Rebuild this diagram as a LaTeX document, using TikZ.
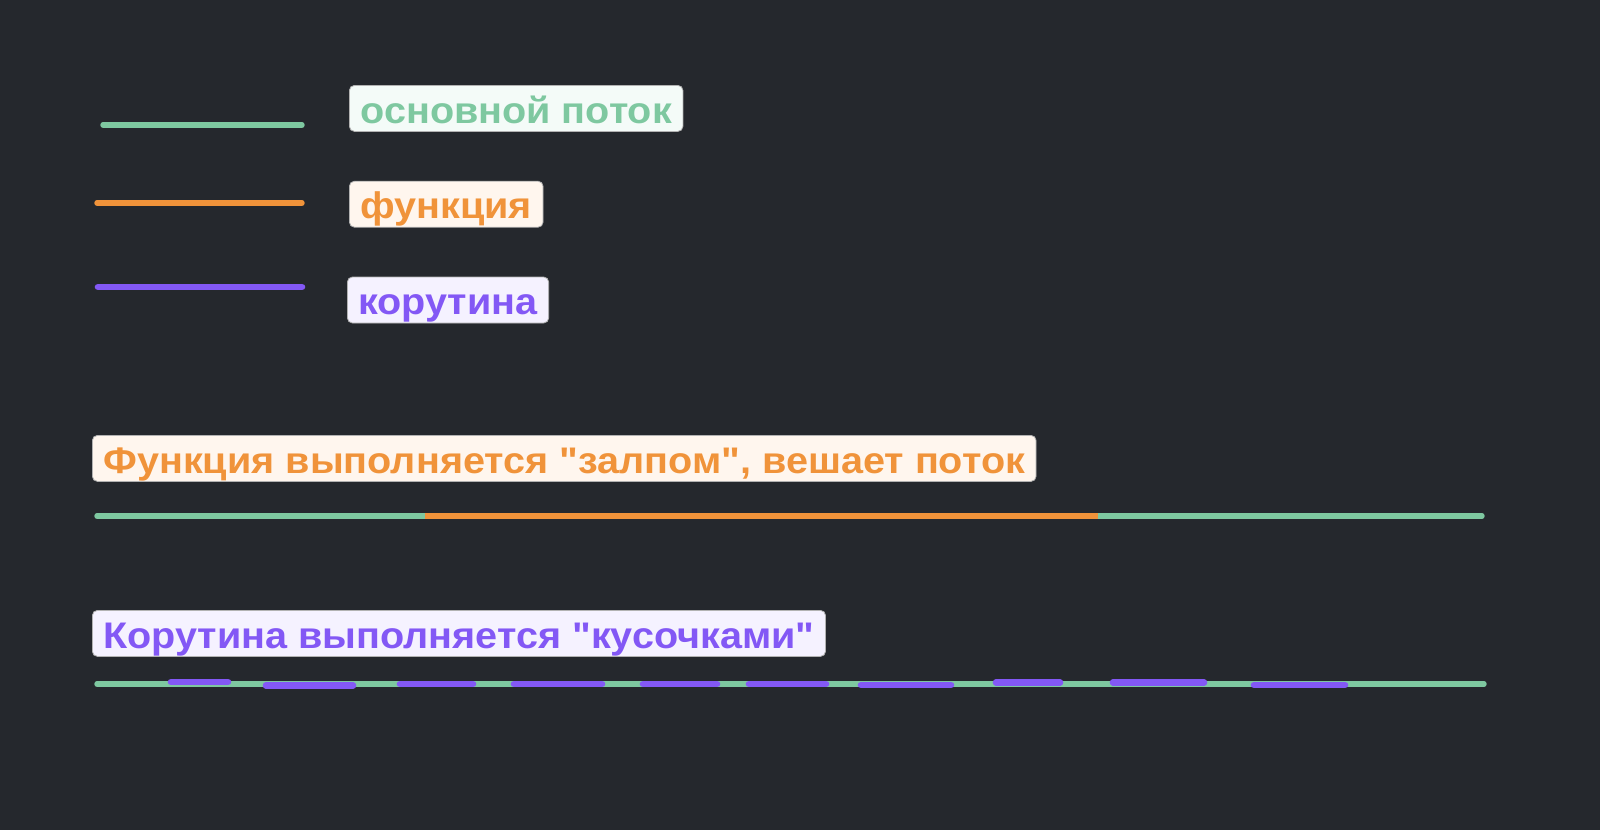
\documentclass[tikz,border=0pt]{standalone}
\usepackage{fontspec}
\usepackage{tikz}
\usetikzlibrary{positioning,backgrounds}
\setmainfont{Liberation Sans}[Ligatures=TeXOff, FakeStretch=1.07]
\definecolor{bgdark}{RGB}{37, 40, 45}
\definecolor{threadgreen}{RGB}{126, 200, 160}
\definecolor{funcorange}{RGB}{240, 147, 58}
\definecolor{corpurple}{RGB}{131, 88, 245}
\definecolor{greenpaper}{RGB}{244, 251, 248}
\definecolor{orangepaper}{RGB}{255, 246, 238}
\definecolor{purplepaper}{RGB}{245, 242, 255}

\begin{document}
\begin{tikzpicture}[x=0.5pt, y=-0.5pt, node distance=24.5pt and 6.0mm,
			tag/.style={draw=black!30, line width=0.4pt, rounded corners=2.5pt, inner xsep=5.5pt, inner ysep=0pt,
				text height=18.8pt, text depth=4.2pt, anchor=north west, font=\bfseries\fontsize{18.5}{21}\selectfont},
			threadtag/.style={tag, fill=greenpaper, text=threadgreen},
			functag/.style={tag, fill=orangepaper, text=funcorange},
			cortag/.style={tag, fill=purplepaper, text=corpurple},
			threadLine/.style={line width=2.7pt, line cap=round, color=threadgreen},
			funcLine/.style={line width=2.7pt, line cap=round, color=funcorange},
			corLine/.style={line width=3.3pt, line cap=round, color=corpurple}
			]
			\fill[bgdark] (0,0) rectangle (1600,830);
			\useasboundingbox (0,0) rectangle (1600,830);
			
			% legend
			\node[threadtag](lthread) at (349,85) {основной поток};
			\node[functag](lfunc) [below = of lthread.south west, anchor=north west] {функция};
			\node[cortag, xshift=-1pt](lcor) [below = of lfunc.south west, anchor=north west] {корутина};
			
			\coordinate (lthreadA) at (103,125);
			\coordinate (lthreadB) at (302,125);
			\coordinate (lfuncA) at (97,203);
			\coordinate (lfuncB) at (302,203);
			\coordinate (lcorA) at (98,287);
			\coordinate (lcorB) at (302,287);
			\draw [threadLine] (lthreadA) to (lthreadB);
			\draw [funcLine] (lfuncA) to (lfuncB);
			\draw [corLine] (lcorA) to (lcorB);
			
			% function
			\node[functag](tfunc) at (92,435) {Функция выполняется "залпом", вешает поток};
			\coordinate (fthreadA) at (97,516);
			\coordinate (fthreadB) at (1482,516);
			\coordinate (fcallA) at (425,516);
			\coordinate (fcallB) at (1098,516);
			\draw [threadLine] (fthreadA) to (fthreadB);
			\draw [funcLine, line cap=butt] (fcallA) to (fcallB);
			
			% coroutine
			\node[cortag](tcor) at (92,610) {Корутина выполняется "кусочками"};
			\coordinate (cthreadA) at (97,684);
			\coordinate (cthreadB) at (1484,684);
			\draw [threadLine] (cthreadA) to (cthreadB);
			\draw [corLine] (171,682) to (228,682);
			\draw [corLine] (266,685.5) to (353,685.5);
			\draw [corLine] (400,684) to (473,684);
			\draw [corLine] (514,684) to (602,684);
			\draw [corLine] (643,684) to (717,684);
			\draw [corLine] (749,684) to (826,684);
			\draw [corLine] (861,685) to (951,685);
			\draw [corLine] (996,682.5) to (1060,682.5);
			\draw [corLine] (1113,682.5) to (1204,682.5);
			\draw [corLine] (1254,685) to (1345,685);
			\end{tikzpicture}
\end{document}
